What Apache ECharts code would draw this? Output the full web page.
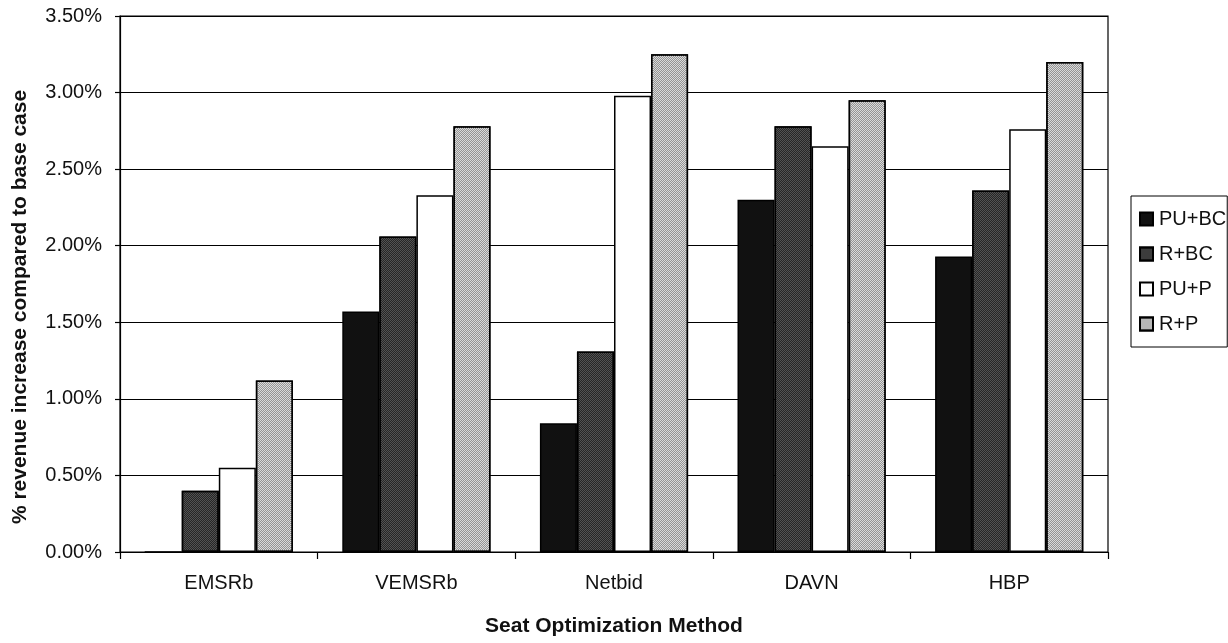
<!DOCTYPE html>
<html>
<head>
<meta charset="utf-8">
<script src="https://cdn.jsdelivr.net/npm/echarts@6/dist/echarts.min.js"></script>
<style>
  html, body { margin: 0; padding: 0; background: #fff; }
  #chart { width: 1228px; height: 643px; }
</style>
</head>
<body>
<div id="chart"></div>
<script>
// Revenue increase (%) over the base case, by seat optimization method
const methods = ['EMSRb', 'VEMSRb', 'Netbid', 'DAVN', 'HBP'];
const puBC = [0.00, 1.57, 0.84, 2.30, 1.93];
const rBC  = [0.40, 2.06, 1.31, 2.78, 2.36];
const puP  = [0.55, 2.33, 2.98, 2.65, 2.76];
const rP   = [1.12, 2.78, 3.25, 2.95, 3.20];
const seriesNames = ['PU+BC', 'R+BC', 'PU+P', 'R+P'];

const FONT = 'Liberation Sans, Arial, sans-serif';

// fine checkerboard stipple used for the shaded fills
function stipple(color) {
  return {
    symbol: 'rect',
    symbolSize: 1,
    dashArrayX: [[1, 1], [0, 1, 1, 0]],
    dashArrayY: [1, 0],
    color: color
  };
}

function barSeries(name, data, color, decal) {
  const itemStyle = { color: color, borderColor: '#000', borderWidth: 1.5 };
  if (decal) itemStyle.decal = decal;
  return {
    name: name,
    type: 'bar',
    data: data,
    barGap: '0%',
    barCategoryGap: '25%',
    itemStyle: itemStyle,
    emphasis: { disabled: true }
  };
}

const chart = echarts.init(document.getElementById('chart'), null, { renderer: 'canvas' });
chart.setOption({
  animation: false,
  backgroundColor: '#fff',
  grid: {
    left: 120, right: 120, top: 16, bottom: 91,
    show: true, borderColor: '#000', borderWidth: 1.2, backgroundColor: 'transparent'
  },
  legend: {
    orient: 'vertical',
    left: 1131, top: 196,
    data: seriesNames,
    itemWidth: 13, itemHeight: 13, itemGap: 15,
    padding: [13, 1, 13, 8],
    borderColor: '#000', borderWidth: 1,
    textStyle: { fontFamily: FONT, fontSize: 20, color: '#111', padding: [0, 0, 0, 1] },
    icon: 'rect'
  },
  xAxis: {
    type: 'category',
    data: methods,
    name: 'Seat Optimization Method',
    nameLocation: 'middle',
    nameGap: 64,
    nameTextStyle: { fontFamily: FONT, fontSize: 21, fontWeight: 'bold', color: '#111' },
    axisLine: { lineStyle: { color: '#000', width: 1.2 } },
    axisTick: { show: true, length: 7, lineStyle: { color: '#000', width: 1.2 } },
    axisLabel: { fontFamily: FONT, fontSize: 20, color: '#111', margin: 21 }
  },
  yAxis: {
    type: 'value',
    min: 0, max: 3.5, interval: 0.5,
    name: '% revenue increase compared to base case',
    nameLocation: 'middle',
    nameGap: 89,
    nameTextStyle: {
      fontFamily: FONT, fontSize: 21, fontWeight: 'bold', color: '#111',
      padding: [0, 46, 0, 0]
    },
    axisLine: { show: true, lineStyle: { color: '#000', width: 1.2 } },
    axisTick: { show: true, length: 5, lineStyle: { color: '#000', width: 1.2 } },
    axisLabel: {
      fontFamily: FONT, fontSize: 20, color: '#111', margin: 18,
      formatter: v => v.toFixed(2) + '%'
    },
    splitLine: { lineStyle: { color: '#000', width: 1.2 } }
  },
  series: [
    barSeries(seriesNames[0], puBC, '#111111'),
    barSeries(seriesNames[1], rBC, '#525252', stipple('#262626')),
    barSeries(seriesNames[2], puP, '#ffffff'),
    barSeries(seriesNames[3], rP, '#dadada', stipple('#949494'))
  ]
});
</script>
</body>
</html>
